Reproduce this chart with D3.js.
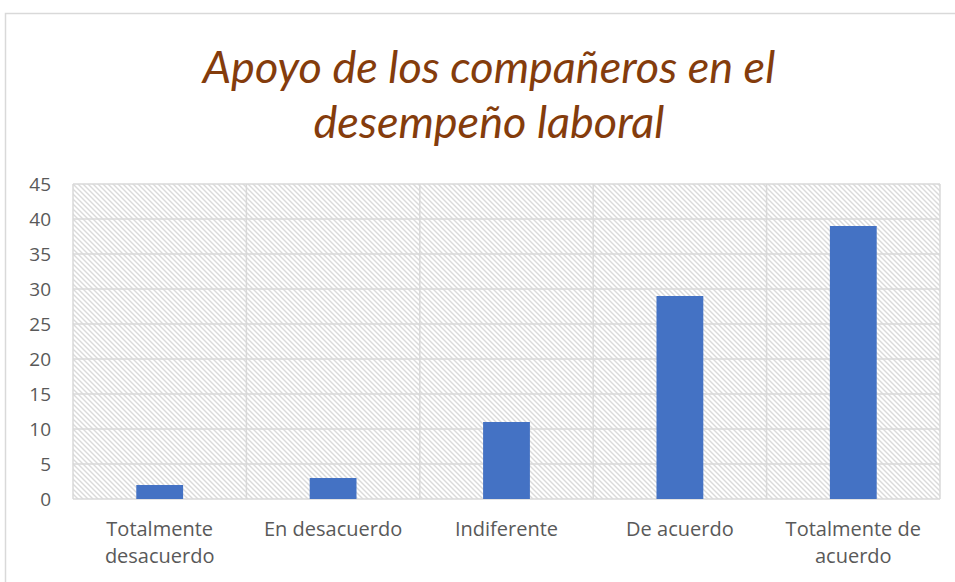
<!DOCTYPE html>
<html>
<head>
<meta charset="utf-8">
<script src="https://d3js.org/d3.v7.min.js"></script>
<style>
  body { margin: 0; background: #fff; }
  svg { display: block; }
</style>
</head>
<body>
<script>
// datos
const categories = ['Totalmente desacuerdo', 'En desacuerdo', 'Indiferente', 'De acuerdo', 'Totalmente de acuerdo'];
const categoryLines = [['Totalmente', 'desacuerdo'], ['En desacuerdo'], ['Indiferente'], ['De acuerdo'], ['Totalmente de', 'acuerdo']];
const values = [2, 3, 11, 29, 39];
const yTicks = [0, 5, 10, 15, 20, 25, 30, 35, 40, 45];
const titleLines = ['Apoyo de los compañeros en el', 'desempeño laboral'];

const W = 955, H = 582;
const margin = {top: 184, bottom: 83, left: 73, right: 15};
const width = W - margin.left - margin.right;
const height = H - margin.top - margin.bottom;

const svg = d3.select('body').append('svg')
  .attr('width', W)
  .attr('height', H);

// patron de rayas diagonales del area de trazado
const pat = svg.append('defs').append('pattern')
  .attr('id', 'hatch')
  .attr('patternUnits', 'userSpaceOnUse')
  .attr('width', 5)
  .attr('height', 5)
pat.append('rect').attr('width', 5).attr('height', 5).attr('fill', '#fff')
pat.append('path')
  .attr('d', 'M-1,-1 L6,6 M-1,4 L1,6 M4,-1 L6,1')
  .attr('stroke', '#dadada')
  .attr('stroke-width', 1.4)

// borde del grafico
svg.append('rect')
  .attr('x', 5.5).attr('y', 13.5)
  .attr('width', 980).attr('height', 600)
  .attr('fill', 'none')
  .attr('stroke', '#d9d9d9')
  .attr('stroke-width', 1.5)

// titulo
svg.append('text')
  .attr('text-anchor', 'middle')
  .attr('fill', '#843c0c')
  .style('font-family', 'Lato, "Open Sans", sans-serif')
  .style('font-style', 'italic')
  .style('font-size', '45px')
  .selectAll('tspan')
  .data(titleLines)
  .join('tspan')
  .attr('x', 489)
  .attr('y', (d, i) => 83 + i * 55)
  .text(d => d)

const g = svg.append('g')
  .attr('transform', `translate(${margin.left},${margin.top})`)

const xScale = d3.scaleBand()
  .domain(categories)
  .range([0, width])
  .paddingInner(0)
  .paddingOuter(0)

const yScale = d3.scaleLinear()
  .domain([0, 45])
  .range([height, 0])

g.append('rect')
  .attr('width', width)
  .attr('height', height)
  .attr('fill', 'url(#hatch)')

// lineas de cuadricula horizontales
g.selectAll('.hgrid')
  .data(yTicks)
  .join('line')
  .attr('class', 'hgrid')
  .attr('x1', 0).attr('x2', width)
  .attr('y1', d => yScale(d)).attr('y2', d => yScale(d))
  .attr('stroke', '#d9d9d9')
  .attr('stroke-width', 1.5)

// lineas verticales entre categorias
const bounds = categories.map(c => xScale(c)).concat([width])
g.selectAll('.vgrid')
  .data(bounds)
  .join('line')
  .attr('class', 'vgrid')
  .attr('x1', d => d).attr('x2', d => d)
  .attr('y1', 0).attr('y2', height)
  .attr('stroke', '#d9d9d9')
  .attr('stroke-width', 1.5)

// barras
const barW = xScale.bandwidth() * 0.27
g.selectAll('.bar')
  .data(values)
  .join('rect')
  .attr('class', 'bar')
  .attr('x', (d, i) => xScale(categories[i]) + xScale.bandwidth() / 2 - barW / 2)
  .attr('y', d => yScale(d))
  .attr('width', barW)
  .attr('height', d => height - yScale(d))
  .attr('fill', '#4472c4')

// eje y
const yaxis = d3.axisLeft(yScale).tickValues(yTicks).tickSize(0).tickPadding(22)
g.append('g')
  .call(yaxis)
  .call(a => a.select('.domain').remove())
  .selectAll('text')
  .attr('fill', '#595959')
  .style('font-family', '"Open Sans", sans-serif')
  .style('font-size', '19px')

// etiquetas de categorias
g.selectAll('.xlab')
  .data(categories)
  .join('text')
  .attr('class', 'xlab')
  .attr('text-anchor', 'middle')
  .attr('fill', '#595959')
  .style('font-family', '"Open Sans", sans-serif')
  .style('font-size', '20px')
  .each(function(d, i) {
    d3.select(this).selectAll('tspan')
      .data(categoryLines[i])
      .join('tspan')
      .attr('x', xScale(d) + xScale.bandwidth() / 2)
      .attr('y', (t, j) => height + 37 + j * 27)
      .text(t => t)
  })
</script>
</body>
</html>
